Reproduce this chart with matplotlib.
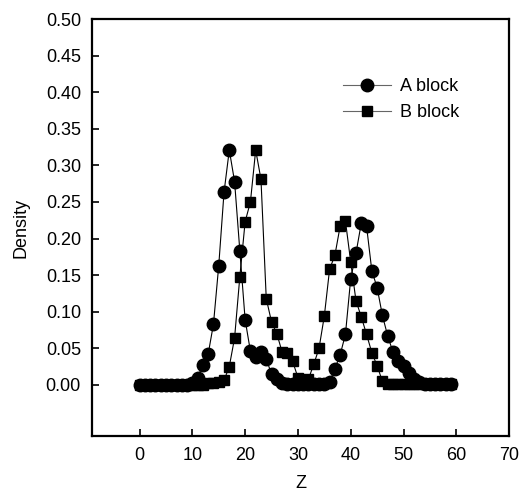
import numpy as np
import matplotlib
matplotlib.use("Agg")
import matplotlib.pyplot as plt

plt.rcParams["font.family"] = ["Liberation Sans", "DejaVu Sans"]

# Z positions (one point per lattice layer)
z = np.arange(0, 60)

density_a = [
    0.0, 0.0, 0.0, 0.0, 0.0, 0.0, 0.0, 0.0, 0.0, 0.0,
    0.003, 0.010, 0.027, 0.042, 0.083, 0.163, 0.263, 0.321, 0.278, 0.183,
    0.089, 0.046, 0.038, 0.045, 0.035, 0.015, 0.008, 0.003, 0.001, 0.001,
    0.001, 0.001, 0.001, 0.001, 0.001, 0.001, 0.004, 0.022, 0.041, 0.069,
    0.145, 0.180, 0.221, 0.217, 0.156, 0.133, 0.095, 0.067, 0.045, 0.032,
    0.026, 0.016, 0.008, 0.004, 0.001, 0.001, 0.001, 0.001, 0.001, 0.001,
]
density_b = [
    0.0, 0.0, 0.0, 0.0, 0.0, 0.0, 0.0, 0.0, 0.0, 0.0,
    0.0, 0.0, 0.0, 0.002, 0.003, 0.004, 0.006, 0.025, 0.064, 0.148,
    0.223, 0.250, 0.321, 0.281, 0.118, 0.086, 0.070, 0.045, 0.043, 0.032,
    0.010, 0.004, 0.008, 0.028, 0.050, 0.094, 0.158, 0.177, 0.217, 0.224,
    0.168, 0.115, 0.093, 0.069, 0.044, 0.026, 0.005, 0.001, 0.001, 0.001,
    0.001, 0.001, 0.001, 0.001, 0.001, 0.001, 0.001, 0.001, 0.001, 0.001,
]

x_ticks = [0, 10, 20, 30, 40, 50, 60, 70]
y_ticks = np.arange(0, 0.51, 0.05)

fig = plt.figure(figsize=(5.2, 4.91), dpi=100)
ax = fig.add_axes([0.177, 0.112, 0.802, 0.849])

ax.plot(z, density_a, color="black", lw=0.8, marker="o", ms=9,
        mec="black", mfc="black", label="A block")
ax.plot(z, density_b, color="black", lw=0.8, marker="s", ms=7.5,
        mec="black", mfc="black", label="B block")

ax.set_xlim(-9, 70)
ax.set_ylim(-0.07, 0.5)
ax.set_xticks(x_ticks)
ax.set_yticks(y_ticks)
ax.set_yticklabels([f"{v:.2f}" for v in y_ticks])
ax.tick_params(direction="in", length=5, width=1.2, labelsize=13, pad=8,
               top=False, right=False)
for side in ax.spines.values():
    side.set_linewidth(1.6)

ax.set_xlabel("Z", fontsize=13, labelpad=8)
ax.set_ylabel("Density", fontsize=13, labelpad=12)

leg = ax.legend(loc="upper left", bbox_to_anchor=(0.562, 0.898), frameon=False,
                fontsize=13, handlelength=2.7, handletextpad=0.5,
                labelspacing=0.5)
for line in leg.get_lines():
    line.set_color("0.4")

fig.savefig("out.png", dpi=100)
